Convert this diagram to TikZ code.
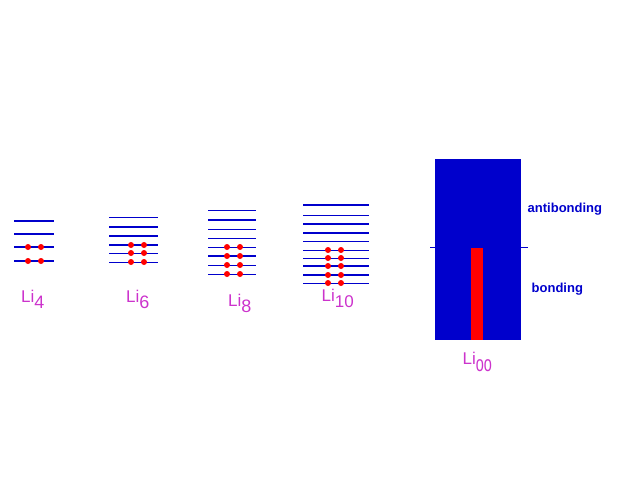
\documentclass[tikz,border=0pt]{standalone}
\usepackage{fontspec}
\setmainfont{Liberation Sans}
\usepackage{xcolor}
\usetikzlibrary{positioning}
\definecolor{orbital}{RGB}{0,0,204}
\definecolor{electron}{RGB}{255,0,0}
\definecolor{cluster}{RGB}{204,51,204}
\newcommand{\clustername}[2][18]{Li\raisebox{-6pt}{\fontsize{#1}{#1}\selectfont #2}}

\begin{document}
\begin{tikzpicture}[x=1pt,y=-1pt,
  lvl/.style={draw=orbital,line width=1pt},
  lvlbold/.style={draw=orbital,line width=2pt},
  elec/.style={fill=electron},
  clabel/.style={text=cluster,font=\fontsize{17}{17}\selectfont,
               anchor=base west,inner sep=0pt},
  band/.style={text=orbital,font=\bfseries\fontsize{13}{13}\selectfont,
               anchor=west,inner sep=0pt}]
  \useasboundingbox (0,0) rectangle (640,480);

  % Li4
  \foreach \y in {221,234,247,261} \draw[lvlbold] (14,\y) -- (54,\y);
  \foreach \y in {247,261} {\fill[elec] (28,\y) circle (3); \fill[elec] (41,\y) circle (3);}
  \node[clabel] (li4) at (21,302.5) {\clustername{4}};

  % Li6
  \foreach \y in {217,253,262} \draw[lvl] (109,\y) -- (158,\y);
  \foreach \y in {227,236,245} \draw[lvlbold] (109,\y) -- (158,\y);
  \foreach \y in {245,253,262} {\fill[elec] (131,\y) circle (3); \fill[elec] (144,\y) circle (3);}
  \node[clabel] (li6) at (126,302.5) {\clustername{6}};

  % Li8
  \foreach \y in {210,229,238,247,265,274} \draw[lvl] (208,\y) -- (256,\y);
  \foreach \y in {220,256} \draw[lvlbold] (208,\y) -- (256,\y);
  \foreach \y in {247,256,265,274} {\fill[elec] (227,\y) circle (3); \fill[elec] (240,\y) circle (3);}
  \node[clabel] (li8) at (228,306) {\clustername{8}};

  % Li10
  \foreach \y in {215,241,250,258,283} \draw[lvl] (303,\y) -- (369,\y);
  \foreach \y in {205,224,233,266,275} \draw[lvlbold] (303,\y) -- (369,\y);
  \foreach \y in {250,258,266,275,283} {\fill[elec] (328,\y) circle (3); \fill[elec] (341,\y) circle (3);}
  \node[clabel] (li10) at (321.5,301.7) {\clustername[17]{10}};

  % band of the infinite chain
  \fill[orbital] (435,159) rectangle (521,340);
  \draw[lvl] (430,247.5) -- (528,247.5);
  \fill[electron] (471,248) rectangle (483,340);
  \node[clabel] (liinf) at (462.5,364)
    {Li\raisebox{-7pt}{\scalebox{0.85}[1.3]{oo}}};
  \node[band] (anti) at (527.5,209) {antibonding};
  \node[band] (bond) at (531.5,289) {bonding};
\end{tikzpicture}
\end{document}
